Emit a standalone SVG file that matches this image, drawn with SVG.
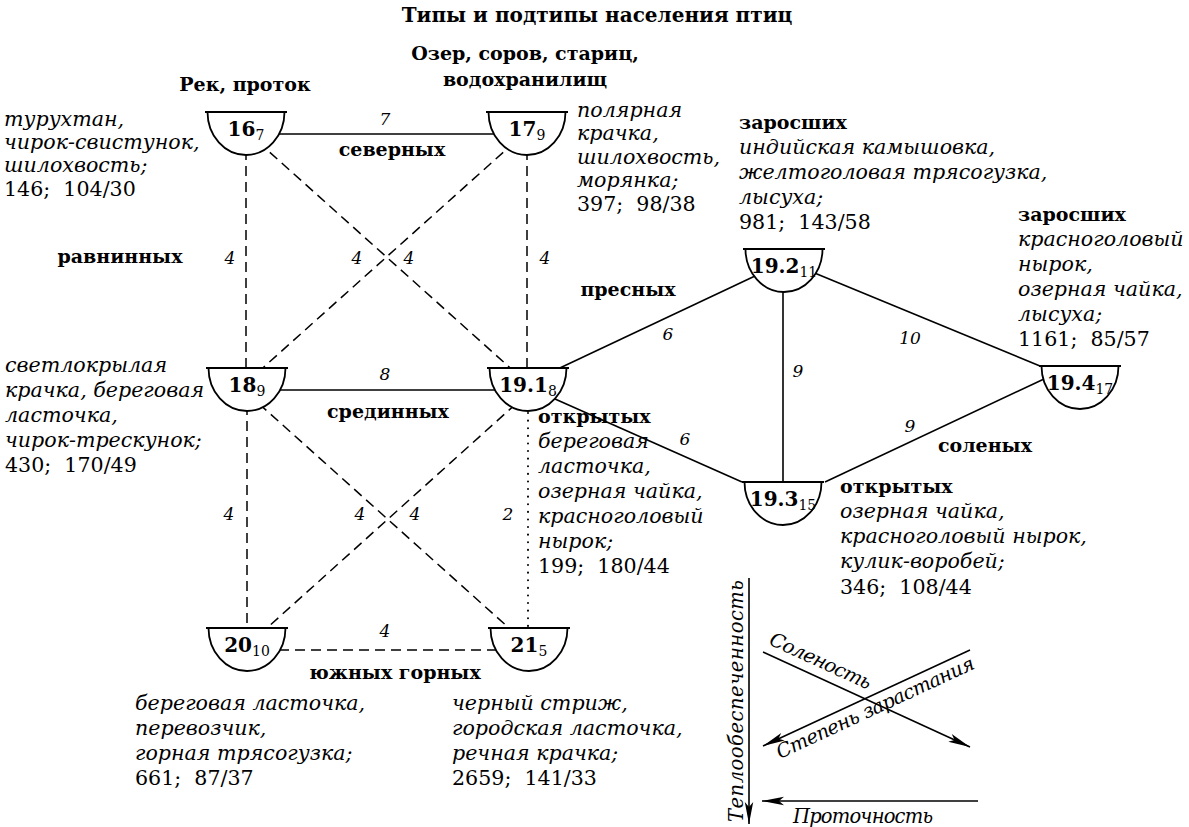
<svg xmlns="http://www.w3.org/2000/svg" width="1189" height="827" viewBox="0 0 1189 827">
<style>
.h{font-family:"DejaVu Serif",serif;font-weight:bold;font-size:19px;fill:#000}
.i{font-family:"DejaVu Serif",serif;font-style:italic;font-size:20.6px;fill:#000}
.n{font-family:"DejaVu Serif",serif;font-size:20.6px;fill:#000;white-space:pre}
.g{font-family:"DejaVu Serif",serif;font-style:italic;font-size:19.5px;fill:#000}
.l{font-family:"DejaVu Serif",serif;font-style:italic;font-size:17px;fill:#000}
.nb{font-family:"DejaVu Serif",serif;font-weight:bold;font-size:20px}
.sub{font-family:"DejaVu Serif",serif;font-size:14px}
.node path{fill:#fff;stroke:#000;stroke-width:1.8}
.s{stroke:#000;stroke-width:1.6;fill:none}
.d{stroke:#000;stroke-width:1.5;fill:none;stroke-dasharray:10 6}
.o{stroke:#000;stroke-width:2;fill:none;stroke-dasharray:0.1 7.5;stroke-linecap:round}
.a{stroke:#000;stroke-width:1.6;fill:none;marker-end:url(#ah)}
</style>
<defs>
<marker id="ah" markerUnits="userSpaceOnUse" viewBox="-23 -6 25 12" refX="0" refY="0" markerWidth="25" markerHeight="12" orient="auto">
<path d="M0,0 L-22,-4.2 L-17,0 L-22,4.2 Z" fill="#000"/>
</marker>
</defs>
<rect width="1189" height="827" fill="#fff"/>
<text class="h" x="597" y="22" text-anchor="middle" style="font-size:20px">Типы и подтипы населения птиц</text>
<text class="h" x="525" y="60" text-anchor="middle">Озер, соров, стариц,</text>
<text class="h" x="525" y="86" text-anchor="middle">водохранилищ</text>
<text class="h" x="245" y="91" text-anchor="middle">Рек, проток</text>

<g id="connectors">
<line class="s" x1="246" y1="134" x2="527" y2="134"/>
<line class="d" x1="246" y1="150" x2="246" y2="368"/>
<line class="d" x1="527" y1="150" x2="527" y2="368"/>
<line class="d" x1="246" y1="131" x2="527" y2="383"/>
<line class="d" x1="527" y1="131" x2="246" y2="383"/>
<line class="s" x1="247" y1="390" x2="528" y2="390"/>
<line class="d" x1="247" y1="405" x2="247" y2="628"/>
<line class="o" x1="528" y1="413" x2="528" y2="628"/>
<line class="d" x1="247" y1="393" x2="529" y2="646"/>
<line class="d" x1="528" y1="393" x2="247" y2="646"/>
<line class="d" x1="247" y1="650" x2="529" y2="650"/>
<line class="s" x1="528" y1="383" x2="755" y2="276"/>
<line class="s" x1="528" y1="387" x2="742" y2="482"/>
<line class="s" x1="783" y1="280" x2="783" y2="482"/>
<line class="s" x1="800" y1="267" x2="1040" y2="366"/>
<line class="s" x1="825" y1="482" x2="1044" y2="379"/>
<text class="l" x="385" y="125" text-anchor="middle">7</text>
<text class="h" x="392" y="156" text-anchor="middle">северных</text>
<text class="l" x="230" y="264" text-anchor="middle">4</text>
<text class="l" x="357" y="264" text-anchor="middle">4</text>
<text class="l" x="409" y="264" text-anchor="middle">4</text>
<text class="l" x="545" y="264" text-anchor="middle">4</text>
<text class="l" x="385" y="380" text-anchor="middle">8</text>
<text class="h" x="388" y="418" text-anchor="middle">срединных</text>
<text class="l" x="229" y="520" text-anchor="middle">4</text>
<text class="l" x="360" y="520" text-anchor="middle">4</text>
<text class="l" x="415" y="520" text-anchor="middle">4</text>
<text class="l" x="508" y="520" text-anchor="middle">2</text>
<text class="l" x="385" y="637" text-anchor="middle">4</text>
<text class="h" x="395" y="679" text-anchor="middle">южных горных</text>
<text class="h" x="120" y="263" text-anchor="middle">равнинных</text>
<text class="h" x="628" y="296" text-anchor="middle">пресных</text>
<text class="l" x="668" y="340" text-anchor="middle">6</text>
<text class="l" x="685" y="445" text-anchor="middle">6</text>
<text class="l" x="798" y="377" text-anchor="middle">9</text>
<text class="l" x="910" y="344" text-anchor="middle">10</text>
<text class="l" x="910" y="432" text-anchor="middle">9</text>
<text class="h" x="985" y="452" text-anchor="middle">соленых</text>
</g>

<g id="n16" class="node"><path d="M205,112 H287 M207.5,112 A38.5,43 0 0 0 284.5,112"/><text x="246" y="136" text-anchor="middle"><tspan class="nb">16</tspan><tspan class="sub" dy="4">7</tspan></text></g>
<g id="n17" class="node"><path d="M486,112 H568 M488.5,112 A38.5,43 0 0 0 565.5,112"/><text x="527" y="136" text-anchor="middle"><tspan class="nb">17</tspan><tspan class="sub" dy="4">9</tspan></text></g>
<g id="n18" class="node"><path d="M206,368 H288 M208.5,368 A38.5,43 0 0 0 285.5,368"/><text x="247" y="392" text-anchor="middle"><tspan class="nb">18</tspan><tspan class="sub" dy="4">9</tspan></text></g>
<g id="n19_1" class="node"><path d="M487,368 H569 M489.5,368 A38.5,43 0 0 0 566.5,368"/><text x="528" y="392" text-anchor="middle"><tspan class="nb">19.1</tspan><tspan class="sub" dy="4">8</tspan></text></g>
<g id="n19_2" class="node"><path d="M743,249 H825 M745.5,249 A38.5,43 0 0 0 822.5,249"/><text x="784" y="273" text-anchor="middle"><tspan class="nb">19.2</tspan><tspan class="sub" dy="4">11</tspan></text></g>
<g id="n19_3" class="node"><path d="M742,482 H824 M744.5,482 A38.5,43 0 0 0 821.5,482"/><text x="783" y="506" text-anchor="middle"><tspan class="nb">19.3</tspan><tspan class="sub" dy="4">15</tspan></text></g>
<g id="n19_4" class="node"><path d="M1039,366 H1121 M1041.5,366 A38.5,43 0 0 0 1118.5,366"/><text x="1080" y="390" text-anchor="middle"><tspan class="nb">19.4</tspan><tspan class="sub" dy="4">17</tspan></text></g>
<g id="n20" class="node"><path d="M206,628 H288 M208.5,628 A38.5,43 0 0 0 285.5,628"/><text x="247" y="652" text-anchor="middle"><tspan class="nb">20</tspan><tspan class="sub" dy="4">10</tspan></text></g>
<g id="n21" class="node"><path d="M488,628 H570 M490.5,628 A38.5,43 0 0 0 567.5,628"/><text x="529" y="652" text-anchor="middle"><tspan class="nb">21</tspan><tspan class="sub" dy="4">5</tspan></text></g>

<g id="t16">
<text class="i" x="4" y="126">турухтан,</text>
<text class="i" x="4" y="149">чирок-свистунок,</text>
<text class="i" x="4" y="172">шилохвость;</text>
<text class="n" x="4" y="196">146;  104/30</text>
</g>
<g id="t17">
<text class="i" x="577" y="117">полярная</text>
<text class="i" x="577" y="140">крачка,</text>
<text class="i" x="577" y="164">шилохвость,</text>
<text class="i" x="577" y="187">морянка;</text>
<text class="n" x="577" y="211">397;  98/38</text>
</g>
<g id="t19_2">
<text class="h" x="739" y="129">заросших</text>
<text class="i" x="739" y="154">индийская камышовка,</text>
<text class="i" x="739" y="179">желтоголовая трясогузка,</text>
<text class="i" x="739" y="204">лысуха;</text>
<text class="n" x="739" y="229">981;  143/58</text>
</g>
<g id="t19_4">
<text class="h" x="1018" y="221">заросших</text>
<text class="i" x="1018" y="246">красноголовый</text>
<text class="i" x="1018" y="271">нырок,</text>
<text class="i" x="1018" y="296">озерная чайка,</text>
<text class="i" x="1018" y="321">лысуха;</text>
<text class="n" x="1018" y="346">1161;  85/57</text>
</g>
<g id="t18">
<text class="i" x="5" y="372">светлокрылая</text>
<text class="i" x="5" y="397">крачка, береговая</text>
<text class="i" x="5" y="422">ласточка,</text>
<text class="i" x="5" y="447">чирок-трескунок;</text>
<text class="n" x="5" y="472">430;  170/49</text>
</g>
<g id="t19_1">
<text class="h" x="538" y="423">открытых</text>
<text class="i" x="538" y="448">береговая</text>
<text class="i" x="538" y="473">ласточка,</text>
<text class="i" x="538" y="498">озерная чайка,</text>
<text class="i" x="538" y="523">красноголовый</text>
<text class="i" x="538" y="548">нырок;</text>
<text class="n" x="538" y="573">199;  180/44</text>
</g>
<g id="t19_3">
<text class="h" x="840" y="493">открытых</text>
<text class="i" x="840" y="518">озерная чайка,</text>
<text class="i" x="840" y="543">красноголовый нырок,</text>
<text class="i" x="840" y="568">кулик-воробей;</text>
<text class="n" x="840" y="594">346;  108/44</text>
</g>
<g id="t20">
<text class="i" x="135" y="710">береговая ласточка,</text>
<text class="i" x="135" y="735">перевозчик,</text>
<text class="i" x="135" y="760">горная трясогузка;</text>
<text class="n" x="135" y="785">661;  87/37</text>
</g>
<g id="t21">
<text class="i" x="452" y="710">черный стриж,</text>
<text class="i" x="452" y="735">городская ласточка,</text>
<text class="i" x="452" y="760">речная крачка;</text>
<text class="n" x="452" y="785">2659;  141/33</text>
</g>

<g id="legend">
<line class="a" x1="749" y1="578" x2="749" y2="824"/>
<text class="g" transform="translate(743,822) rotate(-90)" textLength="242">Теплообеспеченность</text>
<line class="a" x1="763" y1="652" x2="970" y2="747"/>
<text class="g" transform="translate(768,644) rotate(24.6)" textLength="110">Соленость</text>
<line class="a" x1="970" y1="650" x2="763" y2="746"/>
<text class="g" transform="translate(780,759) rotate(-24.9)" textLength="216">Степень зарастания</text>
<line class="a" x1="978" y1="801" x2="762" y2="801"/>
<text class="g" x="793" y="823" textLength="140">Проточность</text>
</g>
</svg>
